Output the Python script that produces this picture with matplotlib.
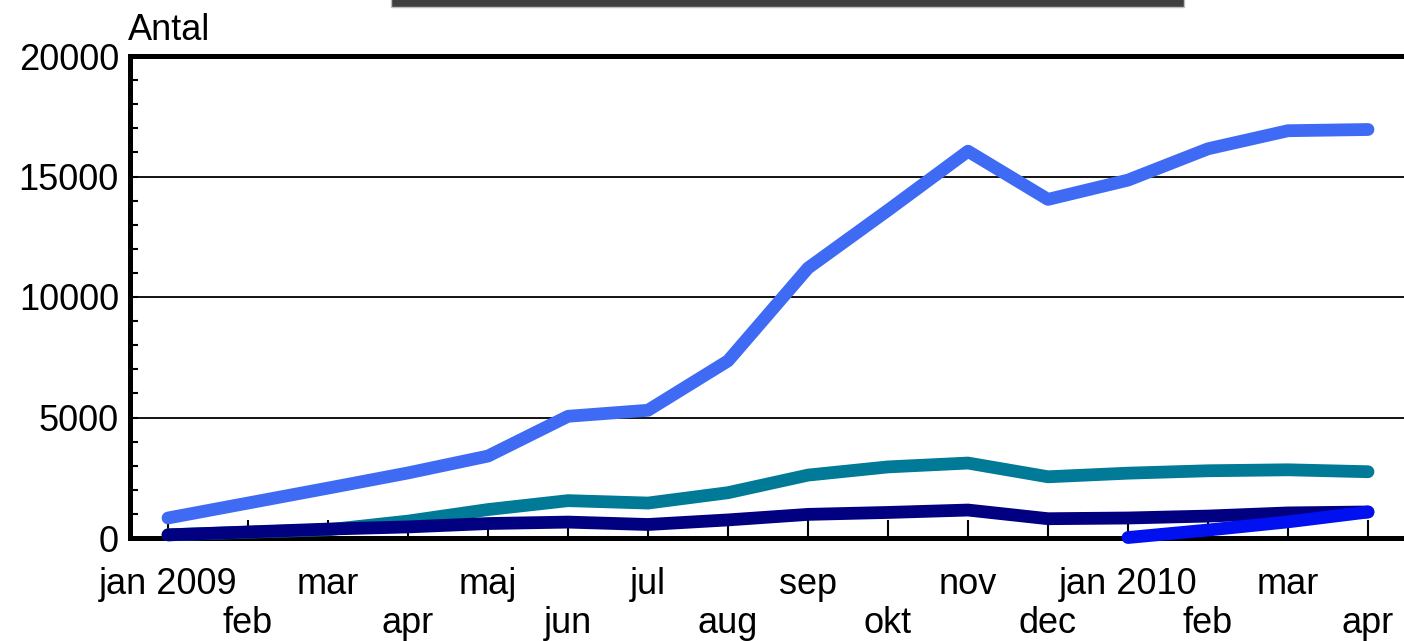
import matplotlib
matplotlib.use("Agg")
import matplotlib.pyplot as plt
import numpy as np
from matplotlib.patches import Rectangle
from matplotlib.ticker import MultipleLocator, FixedLocator, FixedFormatter

plt.rcParams['font.family'] = ['Liberation Sans', 'DejaVu Sans']

months = ["jan 2009", "feb", "mar", "apr", "maj", "jun", "jul", "aug", "sep",
          "okt", "nov", "dec", "jan 2010", "feb", "mar", "apr"]

series_lightblue = [830, 1450, 2070, 2700, 3400, 5050, 5300, 7350, 11200,
                    13600, 16050, 14050, 14850, 16150, 16900, 16950]
series_teal = [130, 240, 340, 700, 1180, 1550, 1450, 1880, 2610,
               2950, 3110, 2540, 2690, 2790, 2830, 2750]
series_navy = [130, 250, 370, 460, 600, 660, 560, 750, 980,
               1060, 1160, 800, 830, 910, 1040, 1080]
series_blue = [np.nan] * 12 + [20, 330, 670, 1080]

colors = {"lightblue": "#3F6BF4", "teal": "#007A96", "navy": "#000080", "blue": "#0010F0"}

W, H = 1404, 641
fig = plt.figure(figsize=(W / 100, H / 100), dpi=100)
left_px, right_px, top_px, bot_px = 130, 1430, 56, 538
ax = fig.add_axes([left_px / W, 1 - bot_px / H, (right_px - left_px) / W, (bot_px - top_px) / H])

x = np.arange(len(months))
x0 = -(168 - left_px) / 80
x1 = (right_px - 168) / 80
ax.set_xlim(x0, x1)
ax.set_ylim(0, 20000)

lw = 9.2
for vals, c in [(series_lightblue, colors["lightblue"]), (series_teal, colors["teal"]),
                (series_navy, colors["navy"]), (series_blue, colors["blue"])]:
    ax.plot(x, vals, color=c, lw=lw, solid_capstyle='round', solid_joinstyle='round',
            clip_on=False, zorder=4)

for y in [5000, 10000, 15000]:
    ax.axhline(y, color='black', lw=1.3, zorder=1)

for s in ['left', 'top', 'bottom']:
    ax.spines[s].set_linewidth(3.6)
    ax.spines[s].set_color('black')
ax.spines['right'].set_visible(False)

ax.set_yticks([0, 5000, 10000, 15000, 20000])
ax.set_yticklabels(["0", "5000", "10000", "15000", "20000"])
ax.yaxis.set_minor_locator(MultipleLocator(1000))
ax.tick_params(axis='y', which='both', direction='in', length=6, width=1.5, pad=8,
               labelsize=26, right=False)

major_idx = list(range(0, len(months), 2))
minor_idx = list(range(1, len(months), 2))
ax.xaxis.set_major_locator(FixedLocator([x[i] for i in major_idx]))
ax.xaxis.set_major_formatter(FixedFormatter([months[i] for i in major_idx]))
ax.xaxis.set_minor_locator(FixedLocator([x[i] for i in minor_idx]))
ax.xaxis.set_minor_formatter(FixedFormatter([months[i] for i in minor_idx]))
ax.tick_params(axis='x', which='major', direction='in', length=13, width=1.5, pad=21,
               labelsize=26, top=False)
ax.tick_params(axis='x', which='minor', direction='in', length=13, width=1.5, pad=49,
               labelsize=26, top=False)

fig.text(128 / W, 1 - 40 / H, "Antal", fontsize=26, ha='left', va='baseline')

fig.patches.append(Rectangle((391 / W, 1 - 7 / H), (1184 - 391) / W, 9 / H,
                             transform=fig.transFigure, facecolor='#404040',
                             edgecolor='#c0c0c0', lw=1, figure=fig))

fig.savefig("out.png", dpi=100)
